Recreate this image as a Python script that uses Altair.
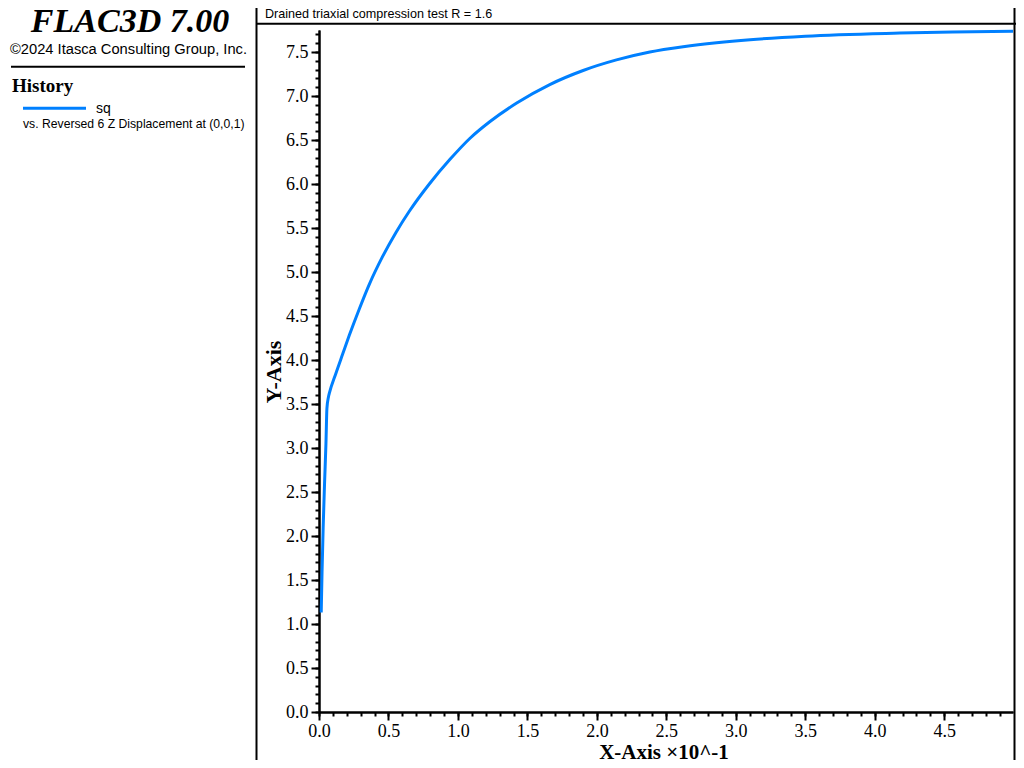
import altair as alt
import pandas as pd

# ---- data (x in units of 10^-1) ----
x_disp = [0.016, 0.022, 0.030, 0.040, 0.050, 0.057, 0.068, 0.074, 0.122, 0.171,
          0.218, 0.290, 0.362, 0.459, 0.554, 0.650, 0.794, 0.943, 1.087, 1.231,
          1.423, 1.661, 1.901, 2.141, 2.381, 2.621, 2.861, 3.103, 3.500, 4.180,
          4.560, 4.995]
sq = [1.13, 1.60, 2.10, 2.60, 3.05, 3.45, 3.58, 3.62, 3.85, 4.07,
      4.28, 4.58, 4.86, 5.18, 5.45, 5.69, 6.00, 6.28, 6.52, 6.71,
      6.92, 7.13, 7.29, 7.41, 7.50, 7.56, 7.605, 7.64, 7.68, 7.715,
      7.728, 7.735]

x_major = [0.0, 0.5, 1.0, 1.5, 2.0, 2.5, 3.0, 3.5, 4.0, 4.5]
x_minor = [round(i * 0.1, 1) for i in range(50)]
y_major = [0.0, 0.5, 1.0, 1.5, 2.0, 2.5, 3.0, 3.5, 4.0, 4.5, 5.0, 5.5, 6.0, 6.5, 7.0, 7.5]
y_minor = [round(i * 0.1, 1) for i in range(78)]

x_domain = [0, 4.995]
y_domain = [0, 7.75]

title_text = "FLAC3D 7.00"
copyright_text = "\u00a92024 Itasca Consulting Group, Inc."
history_text = "History"
series_name = "sq"
series_desc = "vs. Reversed 6 Z Displacement at (0,0,1)"
header_text = "Drained triaxial compression test R = 1.6"
x_title = "X-Axis \u00d710^-1"
y_title = "Y-Axis"

BLUE = "#0080ff"
SERIF = "Liberation Serif"
SANS = "Liberation Sans"

df = pd.DataFrame({"x": x_disp, "y": sq})
one = pd.DataFrame({"k": [0]})

xs = alt.Scale(domain=x_domain, nice=False, zero=False)
ys = alt.Scale(domain=y_domain, nice=False, zero=False)

common_axis = dict(grid=False, domainColor="black", domainWidth=2, tickColor="black",
                   tickWidth=2, labelFlush=False, labelOverlap=False)

minor = alt.Chart(df).mark_line(strokeOpacity=0).encode(
    x=alt.X("x:Q", scale=xs, axis=alt.Axis(orient="bottom", values=x_minor, labels=False,
                                          tickSize=4, title=None, **common_axis)),
    y=alt.Y("y:Q", scale=ys, axis=alt.Axis(orient="left", values=y_minor, labels=False,
                                          tickSize=4, title=None, **common_axis)),
)

major = alt.Chart(df).mark_line(color=BLUE, strokeWidth=3, interpolate="monotone").encode(
    x=alt.X("x:Q", scale=xs, axis=alt.Axis(orient="bottom", values=x_major, format=".1f",
                                          tickSize=8, labelPadding=2, labelFont=SERIF,
                                          labelFontSize=18, labelColor="black", title=None,
                                          **common_axis)),
    y=alt.Y("y:Q", scale=ys, axis=alt.Axis(orient="left", values=y_major, format=".1f",
                                          tickSize=8, labelPadding=3, labelFont=SERIF,
                                          labelFontSize=18, labelColor="black", title=None,
                                          **common_axis)),
)


def txt(text, x, y, font, size, weight="normal", style="normal", align="left", angle=0, color="black"):
    kw = dict(text=text, font=font, fontSize=size, fontWeight=weight, fontStyle=style,
              align=align, baseline="alphabetic", color=color)
    if angle:
        kw["angle"] = angle
    return alt.Chart(one).mark_text(**kw).encode(x=alt.value(x), y=alt.value(y))


def rule(x1, x2, y1, y2, color="black", width=2):
    return alt.Chart(one).mark_rule(color=color, strokeWidth=width).encode(
        x=alt.value(x1), x2=alt.value(x2), y=alt.value(y1), y2=alt.value(y2))


layers = [
    minor,
    major,
    # frame lines
    rule(-62.5, -62.5, -30, 740),
    rule(-63, 697, -6.3, -6.3),
    rule(695.5, 695.5, -30, 740),
    rule(-308, -74, 36.7, 36.7),
    # left panel texts
    txt(title_text, -189, 2, SERIF, 34, weight="bold", style="italic", align="center"),
    txt(copyright_text, -309, 24, SANS, 14.7),
    txt(history_text, -307, 61.7, SERIF, 19, weight="bold"),
    rule(-296, -233, 78.3, 78.3, color=BLUE, width=3),
    txt(series_name, -223, 83, SANS, 14),
    txt(series_desc, -296, 97.7, SANS, 12.2),
    # header
    txt(header_text, -54, -12.3, SANS, 12.6),
    # axis titles
    txt(x_title, 345, 729, SERIF, 21, weight="bold", align="center"),
    txt(y_title, -38, 342, SERIF, 22, weight="bold", align="center", angle=270),
]

chart = alt.layer(*layers).resolve_axis(x="independent", y="independent").properties(
    width=694, height=682,
    autosize=alt.AutoSizeParams(type="none"),
    padding={"left": 311, "top": 22, "right": 3, "bottom": 48},
    background="white",
).configure_view(strokeWidth=0)

chart.save("out.html", embed_options={"renderer": "svg", "actions": False})
